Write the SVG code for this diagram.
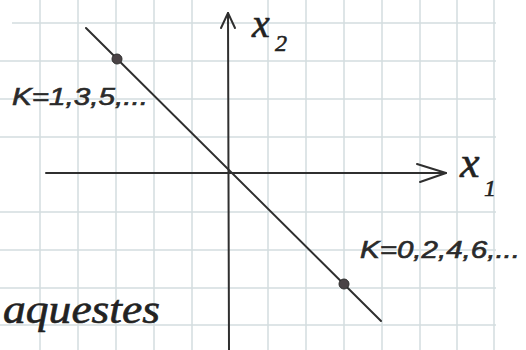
<svg xmlns="http://www.w3.org/2000/svg" width="526" height="350" viewBox="0 0 526 350">
<style>
.grid line{stroke:#d3dcdf;stroke-width:1.5}
.axis{stroke:#2f2f2f;stroke-width:2;fill:none;stroke-linecap:round;stroke-linejoin:round}
.lbl{font-family:"Liberation Sans",Arial,sans-serif;font-style:italic;fill:#2a2a2a;stroke:#2a2a2a;stroke-width:0.6}
.var{font-family:"Liberation Serif","Times New Roman",serif;font-style:italic;fill:#222;stroke:#222;stroke-width:0.6}
.dot{fill:#4a4346;stroke:#2f2f2f;stroke-width:1}
</style>
<rect width="526" height="350" fill="#ffffff"/>
<g id="grid" class="grid">
<line x1="40" y1="0" x2="40" y2="350"/>
<line x1="78" y1="0" x2="78" y2="350"/>
<line x1="116" y1="0" x2="116" y2="350"/>
<line x1="154" y1="0" x2="154" y2="350"/>
<line x1="192" y1="0" x2="192" y2="350"/>
<line x1="268" y1="0" x2="268" y2="350"/>
<line x1="306" y1="0" x2="306" y2="350"/>
<line x1="344" y1="0" x2="344" y2="350"/>
<line x1="382" y1="0" x2="382" y2="350"/>
<line x1="420" y1="0" x2="420" y2="350"/>
<line x1="457" y1="0" x2="457" y2="350"/>
<line x1="494" y1="0" x2="494" y2="350"/>
<line x1="12" y1="23" x2="496" y2="23"/>
<line x1="0" y1="61" x2="496" y2="61"/>
<line x1="0" y1="99" x2="496" y2="99"/>
<line x1="0" y1="137" x2="496" y2="137"/>
<line x1="0" y1="212" x2="496" y2="212"/>
<line x1="0" y1="250" x2="496" y2="250"/>
<line x1="0" y1="288" x2="496" y2="288"/>
<line x1="0" y1="325" x2="496" y2="325"/>
</g>
<g id="axes">
<path class="axis" d="M229 350 L228 13"/>
<path class="axis" d="M221 28 L228 13 L235 28"/>
<path class="axis" d="M46 173 L446 173"/>
<path class="axis" d="M417 164 L446 173 L420 182"/>
</g>
<g id="line">
<path class="axis" stroke-width="2.5" d="M86 28 L381 321"/>
<circle class="dot" cx="117" cy="59" r="5"/>
<circle class="dot" cx="344" cy="284" r="5"/>
</g>
<g id="labels">
<text class="var" x="252" y="37" font-size="40">x</text>
<text class="var" x="275" y="51" font-size="24">2</text>
<text class="var" x="460" y="177" font-size="44">x</text>
<text class="var" x="484" y="196" font-size="24">1</text>
<text class="lbl" x="12" y="105" font-size="24" textLength="136" lengthAdjust="spacingAndGlyphs">K=1,3,5,...</text>
<text class="lbl" x="360" y="258" font-size="23" textLength="160" lengthAdjust="spacingAndGlyphs">K=0,2,4,6,...</text>
<text class="var" x="3" y="323" font-size="40" textLength="157" lengthAdjust="spacingAndGlyphs">aquestes</text>
</g>
</svg>
